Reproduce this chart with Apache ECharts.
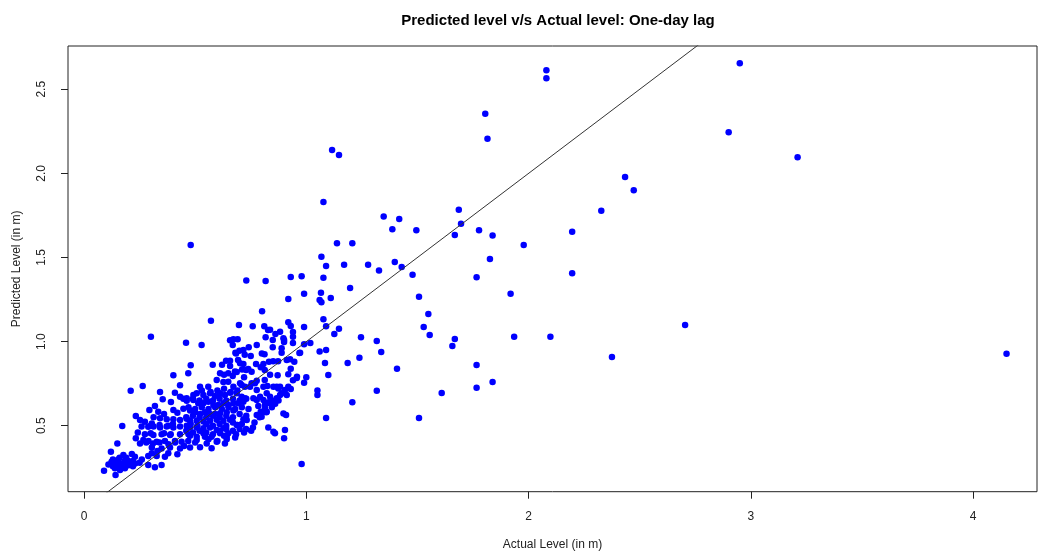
<!DOCTYPE html>
<html>
<head>
<meta charset="utf-8">
<script src="https://cdn.jsdelivr.net/npm/echarts@6/dist/echarts.min.js"></script>
<style>
html,body{margin:0;padding:0;background:#fff;}
#chart{width:1038px;height:559px;}
</style>
</head>
<body>
<div id="chart"></div>
<script>
// ---- data ----
const actualLevel = [
2.95,2.08,2.08,1.805,1.815,2.90,3.21,2.434,2.473,2.327,1.777,1.838,2.196,1.978,1.826,1.766,2.196,1.919,2.704,1.935,2.098,2.375,4.15,1.766,1.838,1.766,
1.077,1.348,1.418,1.387,1.495,1.686,1.696,1.668,1.138,1.207,1.068,1.089,1.170,1.278,1.398,1.327,1.429,1.478,0.930,0.979,1.077,1.197,1.066,0.990,0.919,1.060,1.068,1.110,1.507,1.549,1.528,1.555,1.668,1.657,1.077,0.919,0.930,0.990,1.089,1.147,1.126,1.246,1.317,0.940,0.940,0.900,0.940,1.018,0.990,0.889,0.889,0.969,1.060,1.089,1.337,1.239,1.186,1.084,0.912,0.927,0.946,1.408,0.930,1.099,0.919,0.958,1.000,0.940,0.990,0.882,0.930,1.050,1.050,1.317,0.882,1.609,1.207,0.909,1.089,1.507,0.900,0.979,
1.116,1.147,0.48,
0.730,0.817,0.801,0.571,0.697,0.759,0.811,0.837,0.828,0.882,0.861,0.817,0.897,0.672,0.691,0.301,
0.849,0.900,0.657,0.741,0.777,0.800,0.812,0.849,0.681,0.723,0.750,0.693,0.774,0.807,0.832,0.851,0.873,0.972,0.657,0.711,0.729,0.739,0.754,0.795,0.813,0.687,0.669,0.720,0.837,0.871,0.957,0.777,0.813,0.702,0.747,0.807,0.825,0.852,0.672,
0.529,0.717,0.579,0.621,0.657,0.702,0.717,0.48,0.612,0.630,0.649,0.679,0.597,0.627,0.649,0.709,0.724,0.754,0.769,0.522,0.559,0.507,0.537,0.567,0.589,0.612,0.634,0.657,0.687,0.709,0.724,0.762,0.777,0.822,0.837,0.852,0.784,0.795,0.814,0.492,0.514,0.537,0.559,0.582,0.604,0.627,0.649,0.672,0.694,0.717,
0.477,0.499,0.522,0.544,0.567,0.589,0.612,0.642,0.672,0.477,0.507,0.537,0.567,0.597,0.627,0.657,0.717,0.477,0.507,0.537,0.567,0.597,0.627,0.687,0.649,0.477,0.507,0.544,0.829,
0.402,0.469,0.264,0.342,0.432,0.409,0.354,0.391,0.447,0.462,0.319,0.294,0.334,0.360,0.402,0.420,0.447,0.313,0.342,0.372,0.402,0.432,0.462,0.274,0.305,0.259,0.313,0.342,0.372,0.402,0.432,0.462,0.274,0.312,0.349,0.387,0.432,0.47,0.29,0.327,0.364,0.409,0.439,0.469,0.305,0.349,0.387,0.432,0.477,0.537,0.574,0.612,0.642,0.507,0.552,0.597,0.634,0.522,0.574,
0.233,0.252,0.172,0.242,0.289,0.233,0.252,0.267,0.150,0.121,0.154,0.177,0.184,0.215,0.229,0.124,0.139,0.154,0.170,0.19,0.21,0.22,0.23,0.200,0.090,0.139,0.162,0.184,0.142,0.289,0.319,0.349,0.289,0.305,0.327,0.364,0.379,0.28,0.31,0.34,0.38,0.41,0.30,0.36,0.39,0.30,0.34,0.38,0.40,
0.210,0.432,0.462,0.492,
0.459,0.669,0.699,0.684,0.639,0.897,0.904,0.852,0.859,0.642,0.684,0.729,0.752,0.767,0.79,0.82,0.845,0.86,0.83,0.875,
0.867,0.912,0.777,0.792,0.807,0.814,0.822,0.690,0.732,0.777,0.799,0.814,0.837,0.867,0.889,0.904,0.874,0.919,
0.46,0.49,0.52,0.55,0.58,0.61,0.64,0.67,0.70,0.48,0.51,0.55,0.58,0.61,0.64,0.67,0.71,0.46,0.49,0.52,0.55,0.58,0.61,0.64,0.67,0.70,0.73,0.47,0.50,0.53,0.56,0.59,0.62,0.65,0.68,0.71,0.74,0.49,0.52,0.55,0.58,0.61,0.64,0.67,0.70,0.73,0.53,0.57,0.60,0.63,0.66,0.69,
0.13,0.16,0.19,0.13,0.17,0.20,0.22,0.25,0.26,0.11,
0.33,0.42,0.45,0.50,0.56,0.60,0.63,0.68,0.72,0.76
];
const predictedLevel = [
2.655,2.613,2.565,2.355,2.206,2.244,2.096,1.979,1.900,1.778,1.662,1.630,1.653,1.574,1.491,1.382,1.406,1.285,1.099,1.029,1.029,0.908,0.928,0.861,0.760,0.726,
1.830,1.743,1.729,1.668,1.662,1.784,1.701,1.634,1.584,1.584,1.505,1.449,1.457,1.457,1.473,1.422,1.444,1.398,1.384,1.388,1.380,1.319,1.291,1.285,1.253,1.247,1.234,1.259,1.267,1.164,1.087,1.039,1.015,0.974,1.133,1.115,1.093,1.087,1.091,1.077,1.045,1.026,1.004,1.057,1.029,1.010,0.992,0.992,0.984,0.960,0.934,0.932,0.942,0.950,0.938,0.904,0.873,0.873,0.891,0.895,0.880,0.839,0.839,0.801,0.806,0.791,0.788,0.770,0.756,0.732,0.718,0.710,0.683,0.708,0.683,0.694,0.639,0.564,0.546,0.546,0.425,0.272,
2.139,2.109,1.574,
1.364,1.360,1.180,1.124,1.099,1.091,1.091,1.071,1.069,1.059,1.045,1.026,1.020,1.014,1.014,1.029,
1.010,0.998,1.008,0.966,0.980,0.930,0.925,0.966,0.934,0.922,0.914,0.891,0.867,0.867,0.880,0.883,0.883,0.934,0.855,0.835,0.831,0.837,0.821,0.847,0.831,0.819,0.795,0.788,0.803,0.800,0.784,0.768,0.772,0.752,0.732,0.732,0.736,0.732,0.732,
0.980,0.950,0.863,0.863,0.886,0.871,0.867,0.859,0.812,0.803,0.812,0.823,0.772,0.760,0.762,0.742,0.732,0.752,0.752,0.732,0.732,0.693,0.683,0.693,0.677,0.693,0.683,0.696,0.693,0.672,0.663,0.663,0.653,0.693,0.672,0.649,0.617,0.583,0.583,0.653,0.633,0.633,0.643,0.623,0.623,0.633,0.623,0.633,0.633,0.643,
0.59,0.58,0.57,0.58,0.57,0.57,0.575,0.58,0.59,0.53,0.53,0.525,0.53,0.535,0.53,0.535,0.538,0.49,0.49,0.485,0.49,0.474,0.485,0.504,0.455,0.44,0.435,0.435,0.490,
0.800,0.812,0.736,0.700,0.740,0.696,0.657,0.641,0.661,0.649,0.617,0.593,0.583,0.570,0.593,0.577,0.601,0.550,0.544,0.538,0.538,0.534,0.542,0.524,0.514,0.495,0.495,0.49,0.495,0.49,0.495,0.50,0.45,0.445,0.45,0.445,0.45,0.45,0.41,0.405,0.41,0.41,0.405,0.41,0.37,0.365,0.37,0.365,0.37,0.455,0.435,0.455,0.435,0.415,0.395,0.405,0.395,0.372,0.366,
0.558,0.534,0.498,0.46,0.494,0.425,0.395,0.415,0.395,0.345,0.300,0.326,0.292,0.332,0.316,0.286,0.276,0.266,0.276,0.28,0.27,0.29,0.275,0.265,0.232,0.247,0.237,0.247,0.207,0.266,0.253,0.266,0.320,0.336,0.320,0.316,0.336,0.40,0.395,0.40,0.39,0.40,0.455,0.455,0.45,0.50,0.505,0.50,0.51,
0.708,0.672,0.663,0.683,
0.993,0.980,0.946,0.930,0.886,0.573,0.474,0.464,0.455,0.42,0.45,0.48,0.47,0.52,0.55,0.58,0.61,0.63,0.64,0.65,
0.732,0.682,0.712,0.672,0.653,0.623,0.583,0.504,0.534,0.564,0.554,0.603,0.633,0.663,0.693,0.712,0.722,0.732,
0.47,0.46,0.47,0.46,0.45,0.47,0.48,0.47,0.48,0.51,0.50,0.51,0.50,0.51,0.50,0.52,0.51,0.55,0.56,0.55,0.55,0.56,0.55,0.56,0.55,0.57,0.56,0.61,0.60,0.61,0.60,0.61,0.60,0.61,0.60,0.61,0.60,0.66,0.65,0.66,0.65,0.66,0.65,0.66,0.65,0.66,0.71,0.70,0.71,0.72,0.70,0.71,
0.30,0.31,0.31,0.26,0.25,0.29,0.26,0.28,0.30,0.27,
0.35,0.33,0.38,0.40,0.42,0.41,0.44,0.43,0.46,0.49
];
const xTicks = [0, 1, 2, 3, 4];
const yTicks = [0.5, 1.0, 1.5, 2.0, 2.5];
const refLineX = [0, 3];
const refLineY = [0, 3];

const points = actualLevel.map((v, i) => [v, predictedLevel[i]]);
const linePts = refLineX.map((v, i) => [v, refLineY[i]]);

const chart = echarts.init(document.getElementById('chart'), null, {renderer: 'canvas'});
const font = "'Liberation Sans', Arial, sans-serif";
chart.setOption({
  animation: false,
  backgroundColor: '#ffffff',
  title: {
    text: 'Predicted level v/s Actual level: One-day lag',
    left: 553, top: 8, textAlign: 'center',
    textStyle: {fontFamily: font, fontWeight: 'bold', fontSize: 15, color: '#000'}
  },
  grid: {left: 68, top: 46, width: 969, height: 445.7, show: true, borderColor: '#222', borderWidth: 1, backgroundColor: 'transparent'},
  xAxis: {
    type: 'value', min: -0.072, max: 4.287,
    name: 'Actual Level (in m)', nameLocation: 'middle', nameGap: 47,
    nameTextStyle: {fontFamily: font, fontSize: 12, color: '#222'},
    axisLine: {show: false, onZero: false},
    axisTick: {show: true, inside: false, length: 7, customValues: xTicks, lineStyle: {color: '#222', width: 1}},
    axisLabel: {customValues: xTicks, margin: 19, fontFamily: font, fontSize: 12, color: '#222', formatter: v => String(v)},
    splitLine: {show: false}
  },
  yAxis: {
    type: 'value', min: 0.108, max: 2.757,
    name: 'Predicted Level (in m)', nameLocation: 'middle', nameGap: 45, nameRotate: 90,
    nameTextStyle: {fontFamily: font, fontSize: 12, color: '#222'},
    axisLine: {show: false, onZero: false},
    axisTick: {show: true, inside: false, length: 7, customValues: yTicks, lineStyle: {color: '#222', width: 1}},
    axisLabel: {customValues: yTicks, rotate: 90, margin: 20, fontFamily: font, fontSize: 12, color: '#222', formatter: v => v.toFixed(1)},
    splitLine: {show: false}
  },
  series: [
    {type: 'scatter', data: points, symbol: 'circle', symbolSize: 6.5, itemStyle: {color: '#0000ff', opacity: 1}, z: 2, silent: true},
    {type: 'line', data: linePts, symbol: 'none', lineStyle: {color: '#333', width: 1}, z: 3, silent: true, clip: true}
  ]
});
</script>
</body>
</html>
